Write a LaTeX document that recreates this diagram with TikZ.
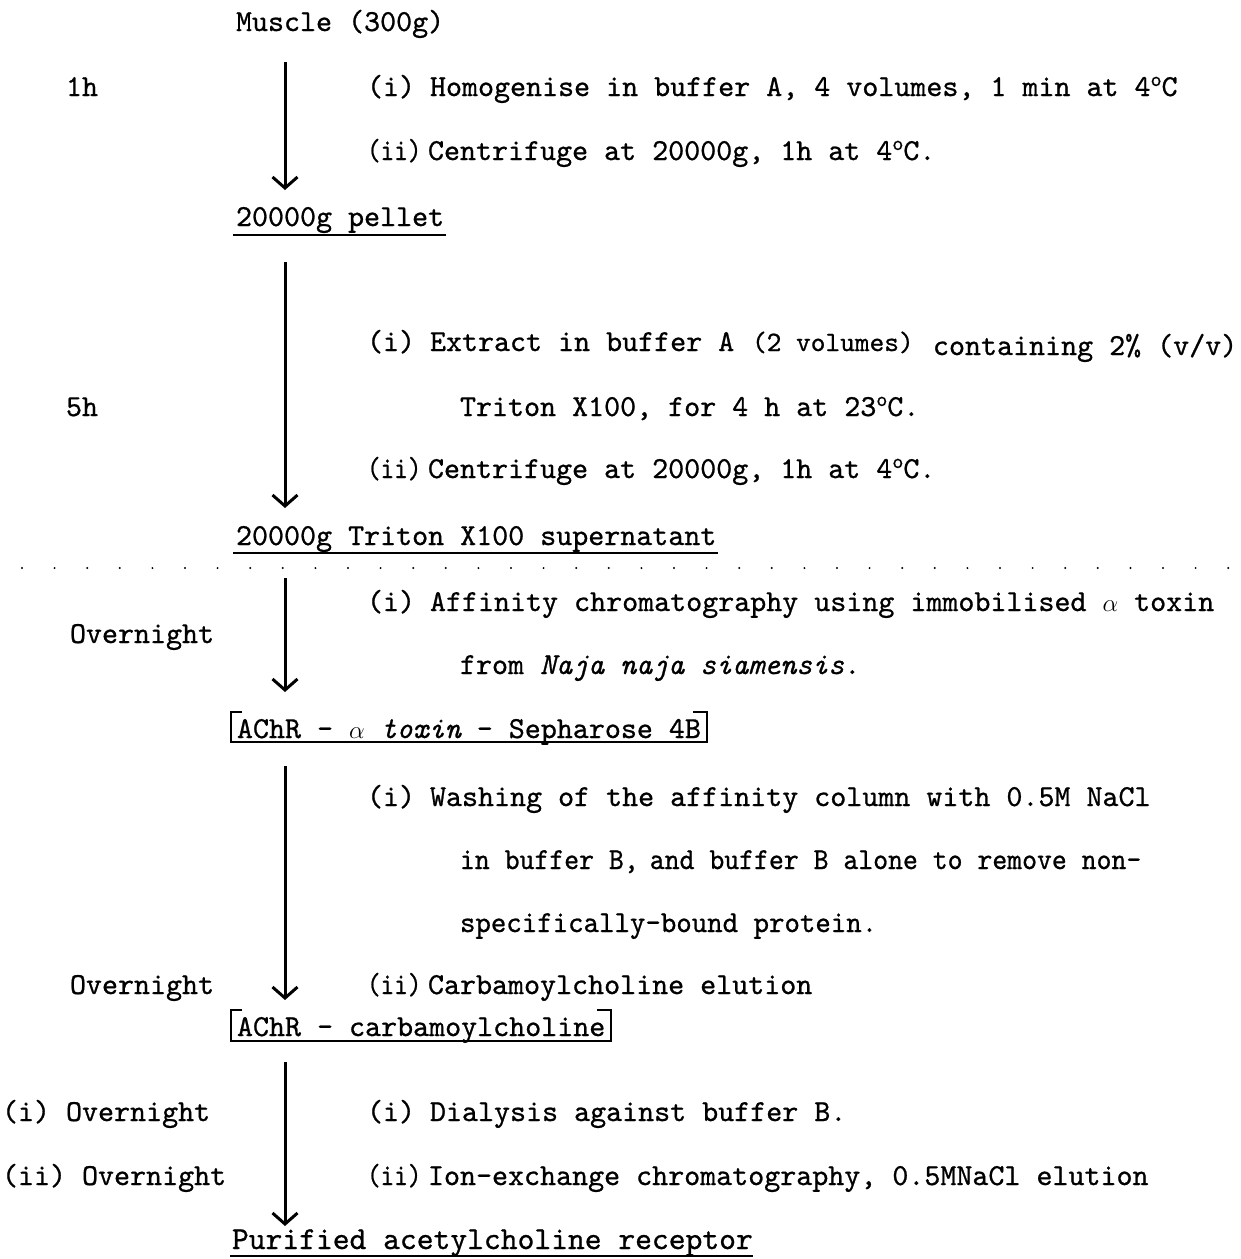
\documentclass[tikz,border=0pt]{standalone}
\usepackage{fontspec}
\usetikzlibrary{arrows.meta}
\newfontfamily\tw{lmmono10-regular.otf}[FakeBold=0.8, ItalicFont=lmmono10-italic.otf]
\newcommand\degsup{\raisebox{10pt}{\fontsize{21}{21}\selectfont o}}
\newcommand\narrowii{\scalebox{0.85}[1]{(ii)}}
\tikzset{
 txt/.style={anchor=base west, inner sep=0pt, outer sep=0pt, font=\tw\fontsize{30.5}{36}\selectfont},
 midtxt/.style={txt, font=\tw\fontsize{28}{34}\selectfont},
 widetxt/.style={txt, font=\tw\fontsize{32}{38}\selectfont},
 flow/.style={line width=3pt, -{Straight Barb[length=11pt,width=25pt,line width=3pt]}},
 uline/.style={line width=2.2pt},
 dots/.style={line width=2.2pt, line cap=round, dash pattern=on 0pt off 32.6pt}
}
\begin{document}
\begin{tikzpicture}[x=1pt,y=-1pt]
\useasboundingbox (0,0) rectangle (1241,1259);
% ---------- step 1
\node[txt] (muscle) at (236,31) {Muscle (300g)};
\node[txt] (t1) at (66,96) {1h};
\node[txt] (s1a) at (367,96) {(i)};
\node[txt] (s1at) at (430,96) {Homogenise in buffer A, 4 volumes, 1 min at 4\degsup C};
\node[txt] (s1b) at (367,160) {\narrowii};
\node[txt] (s1bt) at (428,160) {Centrifuge at 20000g, 1h at 4\degsup C.};
\node[txt] (pellet) at (236,226) {20000g pellet};
\draw[uline] ([shift={(-3pt,-9pt)}]pellet.base west) -- ([shift={(2pt,-9pt)}]pellet.base east);
\coordinate (a1s) at (285,62);
\coordinate (a1e) at (285,190);
\draw[flow] (a1s) -- (a1e);
% ---------- step 2
\node[txt] (s2a) at (367,351) {(i)};
\node[txt] (s2at) at (430,351) {Extract in buffer A};
\node[midtxt] (s2vol) at (752,351) {(2 volumes)};
\node[txt] (s2cont) at (933,355) {containing 2\% (v/v)};
\node[txt] (t2) at (66,416) {5h};
\node[txt] (s2at2) at (460,416) {Triton X100, for 4 h at 23\degsup C.};
\node[txt] (s2b) at (367,478) {\narrowii};
\node[txt] (s2bt) at (428,478) {Centrifuge at 20000g, 1h at 4\degsup C.};
\node[txt] (super) at (236,545) {20000g Triton X100 supernatant};
\draw[uline] ([shift={(-3pt,-8pt)}]super.base west) -- ([shift={(2pt,-8pt)}]super.base east);
\coordinate (a2s) at (285,262);
\coordinate (a2e) at (285,508);
\draw[flow] (a2s) -- (a2e);
% dotted separator
\coordinate (d1) at (22,568);
\coordinate (d2) at (1235,568);
\draw[dots] (d1) -- (d2);
% ---------- step 3
\node[txt] (s3a) at (367,611) {(i)};
\node[txt] (s3at) at (430,611) {Affinity chromatography using immobilised $\alpha$ toxin};
\node[txt] (t3) at (70,643) {Overnight};
\node[txt] (s3at2) at (460,674) {from {\itshape Naja naja siamensis}.};
\node[txt] (box1) at (237,738) {AChR - $\alpha$ {\itshape toxin} - Sepharose 4B};
\draw[uline] ([shift={(5pt,26pt)}]box1.base west) -- ([shift={(-6pt,26pt)}]box1.base west)
  -- ([shift={(-6pt,-4pt)}]box1.base west) -- ([shift={(6pt,-4pt)}]box1.base east)
  -- ([shift={(6pt,26pt)}]box1.base east) -- ([shift={(-8pt,26pt)}]box1.base east);
\coordinate (a3s) at (285,578);
\coordinate (a3e) at (285,692);
\draw[flow] (a3s) -- (a3e);
% ---------- step 4
\node[txt] (s4a) at (367,806) {(i)};
\node[txt] (s4at) at (430,806) {Washing of the affinity column with 0.5M NaCl};
\node[txt] (s4at2) at (460,869) {\scalebox{0.93}[1]{in buffer B,\hspace{-4pt} and buffer B alone to remove non-}};
\node[txt] (s4at3) at (460,932) {\scalebox{0.965}[1]{specifically-bound protein.}};
\node[txt] (t4) at (70,994) {Overnight};
\node[txt] (s4b) at (367,994) {\narrowii};
\node[txt] (s4bt) at (428,994) {Carbamoylcholine elution};
\node[txt] (box2) at (237,1036) {AChR - carbamoylcholine};
\draw[uline] ([shift={(5pt,26pt)}]box2.base west) -- ([shift={(-6pt,26pt)}]box2.base west)
  -- ([shift={(-6pt,-5pt)}]box2.base west) -- ([shift={(6pt,-5pt)}]box2.base east)
  -- ([shift={(6pt,26pt)}]box2.base east) -- ([shift={(-8pt,26pt)}]box2.base east);
\coordinate (a4s) at (285,766);
\coordinate (a4e) at (285,1000);
\draw[flow] (a4s) -- (a4e);
% ---------- step 5
\node[txt] (t5a) at (2,1121) {(i) Overnight};
\node[txt] (s5a) at (367,1121) {(i)};
\node[txt] (s5at) at (430,1121) {Dialysis against buffer B.};
\node[txt] (t5b) at (2,1185) {(ii) Overnight};
\node[txt] (s5b) at (367,1185) {\narrowii};
\node[txt] (s5bt) at (428,1185) {Ion-exchange chromatography, 0.5MNaCl elution};
\node[widetxt] (final) at (232,1249) {Purified acetylcholine receptor};
\draw[uline] ([shift={(-2pt,-7pt)}]final.base west) -- ([shift={(0pt,-7pt)}]final.base east);
\coordinate (a5s) at (285,1062);
\coordinate (a5e) at (285,1226);
\draw[flow] (a5s) -- (a5e);
\end{tikzpicture}
\end{document}
